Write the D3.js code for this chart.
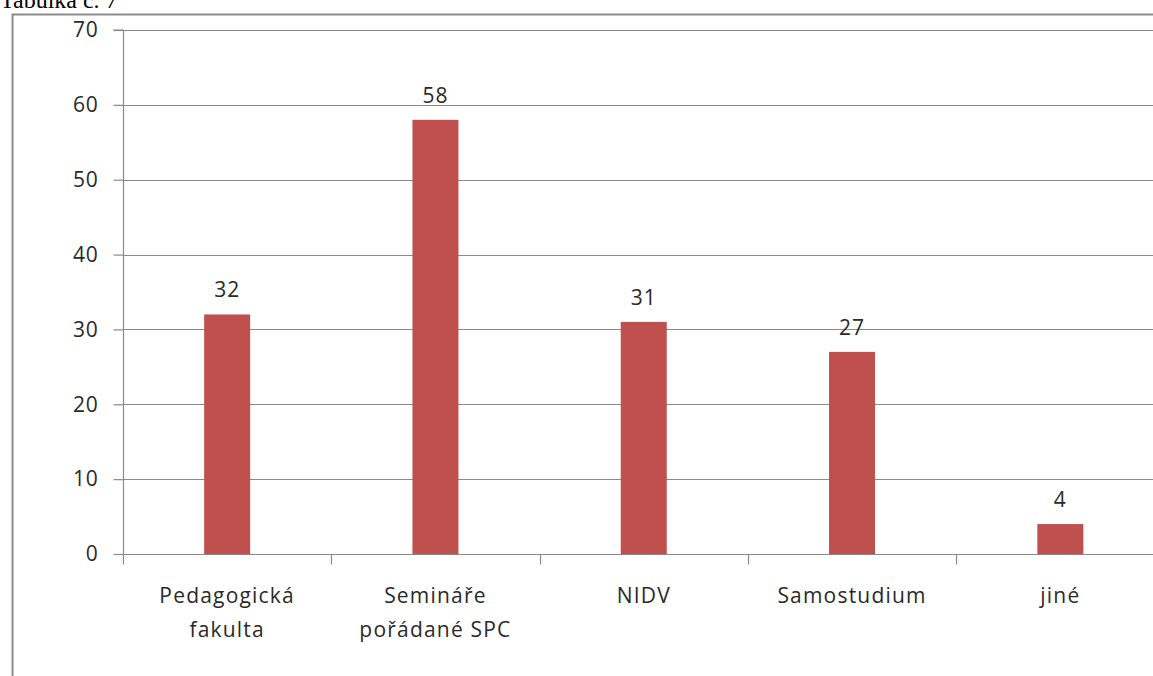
<!DOCTYPE html>
<html><head><meta charset="utf-8">
<script src="https://cdn.jsdelivr.net/npm/d3@7"></script>
<style>body{margin:0;background:#fff;overflow:hidden}svg{display:block}</style>
</head><body>
<script>
const categories = [["Pedagogická","fakulta"],["Semináře","pořádané SPC"],["NIDV"],["Samostudium"],["jiné"]];
const values = [32, 58, 31, 27, 4];
const yTicks = [0,10,20,30,40,50,60,70];
const title = "Tabulka č. 7";

const W = 1153, H = 676;
const svg = d3.select("body").append("svg").attr("width", W).attr("height", H);
const font = "'Open Sans', sans-serif";
const textColor = "#2a2a2a";

// title (clipped at top, like the reference)
svg.append("text").attr("x", 0).attr("y", 8).attr("font-family", "'Liberation Serif', 'Times New Roman', serif")
  .attr("font-size", 24).attr("fill", "#000").text(title);

// frame
svg.append("path").attr("d", `M12.5,${H} L12.5,14.5 L${W},14.5`).attr("fill","none").attr("stroke","#8c8c8c").attr("stroke-width",2);

const x0 = 123, x1 = 123 + 208.3*5;
const y = d3.scaleLinear().domain([0,70]).range([554, 30]);
const x = d3.scaleBand().domain(d3.range(categories.length)).range([x0, x1]).paddingInner(0).paddingOuter(0);
const barW = 46;

// gridlines
svg.append("g").selectAll("line").data(yTicks.filter(d=>d>0)).join("line")
  .attr("x1", x0).attr("x2", W).attr("y1", d=>Math.round(y(d))+0.5).attr("y2", d=>Math.round(y(d))+0.5)
  .attr("stroke","#8a8a8a").attr("stroke-width",1.2);

// y axis
const yAxis = d3.axisLeft(y).tickValues(yTicks).tickSize(10).tickPadding(15);
const gy = svg.append("g").attr("transform", `translate(${x0+0.5},0)`).call(yAxis);
gy.select(".domain").attr("stroke","#8a8a8a").attr("stroke-width",1.2).attr("d", `M-10,${y(70)}H0V${y(0)}`);
gy.selectAll(".tick line").attr("stroke","#8a8a8a").attr("stroke-width",1.2);
gy.selectAll(".tick text").attr("font-family", font).attr("font-size", 21).attr("letter-spacing", 0.8).attr("fill", textColor);

// bars
svg.append("g").selectAll("rect").data(values).join("rect")
  .attr("x", (d,i)=>x(i)+x.bandwidth()/2-barW/2).attr("width", barW)
  .attr("y", d=>y(d)).attr("height", d=>y(0)-y(d)).attr("fill","#C0504D");

// x axis
const gx = svg.append("g").attr("transform", `translate(0,${y(0)+0.5})`);
gx.append("line").attr("x1", x0).attr("x2", W).attr("stroke","#8a8a8a").attr("stroke-width",1.2);
gx.selectAll("line.t").data(d3.range(categories.length)).join("line").attr("class","t")
  .attr("x1", i=>Math.round(x(i))+0.5).attr("x2", i=>Math.round(x(i))+0.5).attr("y1",0).attr("y2",10)
  .attr("stroke","#8a8a8a").attr("stroke-width",1.2);

// category labels
const lab = svg.append("g").selectAll("text").data(categories).join("text")
  .attr("x", (d,i)=>x(i)+x.bandwidth()/2).attr("y", 603)
  .attr("text-anchor","middle").attr("font-family", font).attr("font-size", 21)
  .attr("letter-spacing", 1.2).attr("fill", textColor);
lab.selectAll("tspan").data(d=>d).join("tspan")
  .attr("x", function(){ return this.parentNode.getAttribute("x"); })
  .attr("dy", (d,j)=> j===0 ? 0 : 34).text(d=>d);

// value labels
svg.append("g").selectAll("text").data(values).join("text")
  .attr("x", (d,i)=>x(i)+x.bandwidth()/2).attr("y", d=>y(d)-17)
  .attr("text-anchor","middle").attr("font-family", font).attr("font-size", 21)
  .attr("letter-spacing", 1).attr("fill", textColor).text(d=>d);
</script>
</body></html>
